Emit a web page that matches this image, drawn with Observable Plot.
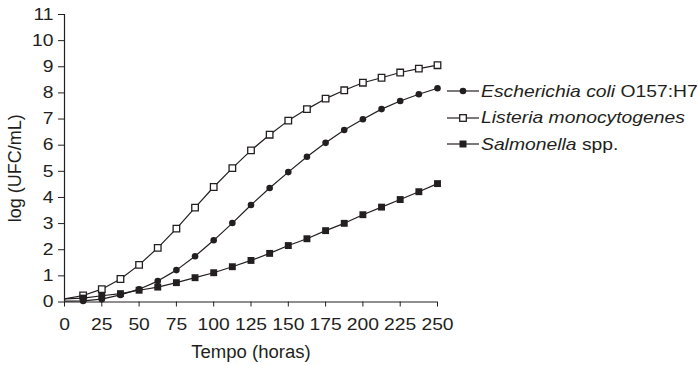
<!DOCTYPE html>
<html>
<head>
<meta charset="utf-8">
<script src="https://cdn.jsdelivr.net/npm/d3@7"></script>
<script src="https://cdn.jsdelivr.net/npm/@observablehq/plot@0.6"></script>
<style>
  html, body { margin: 0; padding: 0; background: #fff; }
  #wrap { position: relative; width: 698px; height: 365px; font-family: "Liberation Sans", Arial, Helvetica, sans-serif; color: #231f20; }
  .lrow { position: absolute; left: 447px; height: 20px; display: flex; align-items: center; white-space: nowrap; }
  .lrow svg { display: block; flex: none; }
  .ltext { font-size: 16.5px; margin-left: 2px; transform: scaleX(1.17); transform-origin: left center; }
  .ltext i { font-style: italic; }
</style>
</head>
<body>
<div id="wrap"></div>
<script>
// ---- data ----
const hours = [0, 12.5, 25, 37.5, 50, 62.5, 75, 87.5, 100, 112.5, 125, 137.5, 150, 162.5, 175, 187.5, 200, 212.5, 225, 237.5, 250];
const ecoli = [0.03, 0.04, 0.11, 0.27, 0.49, 0.80, 1.22, 1.75, 2.36, 3.02, 3.71, 4.36, 4.97, 5.56, 6.09, 6.58, 6.99, 7.38, 7.69, 7.95, 8.18];
const listeria = [0.12, 0.25, 0.49, 0.88, 1.42, 2.07, 2.81, 3.61, 4.40, 5.12, 5.80, 6.40, 6.94, 7.38, 7.78, 8.10, 8.39, 8.58, 8.78, 8.93, 9.06];
const salmonella = [0.12, 0.15, 0.24, 0.32, 0.45, 0.57, 0.74, 0.93, 1.12, 1.35, 1.59, 1.86, 2.16, 2.42, 2.73, 3.01, 3.34, 3.63, 3.92, 4.22, 4.53];
const xTicks = [0, 25, 50, 75, 100, 125, 150, 175, 200, 225, 250];
const yTicks = [0, 1, 2, 3, 4, 5, 6, 7, 8, 9, 10, 11];
const xLabel = "Tempo (horas)";
const yLabel = "log (UFC/mL)";
const legendItems = [
  { italic: "Escherichia coli", plain: " O157:H7", marker: "circle" },
  { italic: "Listeria monocytogenes", plain: "", marker: "open" },
  { italic: "Salmonella", plain: " spp.", marker: "filled" }
];

const ink = "#231f20";
const rows = vals => hours.map((h, i) => ({ hour: h, value: vals[i] }));
const markerRows = vals => rows(vals).filter(d => d.hour > 0);

const chart = Plot.plot({
  width: 698,
  height: 365,
  marginLeft: 64,
  marginRight: 261,
  marginTop: 14,
  marginBottom: 63.5,
  style: { fontFamily: '"Liberation Sans", Arial, Helvetica, sans-serif', fontSize: "16.5px", color: ink, background: "#fff" },
  x: { domain: [0, 250] },
  y: { domain: [0, 11] },
  marks: [
    Plot.axisX({ ticks: xTicks, tickSize: 5, tickPadding: 11, tickFormat: d => String(d), label: null, stroke: ink, fill: ink }),
    Plot.axisY({ ticks: yTicks, tickSize: 6, tickPadding: 5, tickFormat: d => String(d), label: null, stroke: ink, fill: ink }),
    Plot.ruleX([0], { stroke: ink, strokeWidth: 1.2 }),
    Plot.ruleY([0], { stroke: ink, strokeWidth: 1.2 }),
    Plot.line(rows(listeria), { x: "hour", y: "value", stroke: ink, strokeWidth: 1.2 }),
    Plot.line(rows(ecoli), { x: "hour", y: "value", stroke: ink, strokeWidth: 1.2 }),
    Plot.line(rows(salmonella), { x: "hour", y: "value", stroke: ink, strokeWidth: 1.2 }),
    Plot.dot(markerRows(listeria), { x: "hour", y: "value", symbol: "square", r: 3.7, fill: "#fff", stroke: ink, strokeWidth: 1.3 }),
    Plot.dot(markerRows(ecoli), { x: "hour", y: "value", symbol: "circle", r: 3.3, fill: ink }),
    Plot.dot(markerRows(salmonella), { x: "hour", y: "value", symbol: "square", r: 3.9, fill: ink }),
    Plot.text([xLabel], { text: d => d, frameAnchor: "bottom", dy: 50, lineAnchor: "middle", fontSize: 18, fill: ink }),
    Plot.text([yLabel], { text: d => d, frameAnchor: "left", dx: -49, dy: 10, rotate: -90, textAnchor: "middle", lineAnchor: "middle", fontSize: 18, fill: ink })
  ]
});

// slightly wider glyphs, as in the reference typesetting
function stretch(t, s) {
  const tr = t.getAttribute("transform");
  if (tr && tr.includes("translate")) {
    t.setAttribute("transform", tr + ` scale(${s},1)`);
  } else {
    const x = +(t.getAttribute("x") || 0);
    t.setAttribute("transform", `translate(${x},0) scale(${s},1) translate(${-x},0)`);
  }
}
chart.querySelectorAll('g[aria-label="x-axis tick label"] text, g[aria-label="y-axis tick label"] text').forEach(t => stretch(t, 1.17));
chart.querySelectorAll("text").forEach(t => { if (t.textContent === xLabel) stretch(t, 1.03); });

const wrap = document.getElementById("wrap");
wrap.appendChild(chart);

// legend
const legendCenters = [91.3, 117.7, 144];
legendItems.forEach((item, i) => {
  const row = document.createElement("div");
  row.className = "lrow";
  row.style.top = (legendCenters[i] - 10) + "px";
  let m = "";
  if (item.marker === "circle") m = `<circle cx="16" cy="10" r="3.3" fill="${ink}"/>`;
  else if (item.marker === "open") m = `<rect x="12.7" y="6.7" width="6.6" height="6.6" fill="#fff" stroke="${ink}" stroke-width="1.3"/>`;
  else m = `<rect x="12.5" y="6.5" width="7" height="7" fill="${ink}"/>`;
  row.innerHTML = `<svg width="32" height="20"><line x1="0" x2="32" y1="10" y2="10" stroke="${ink}" stroke-width="1.2"/>${m}</svg>` +
    `<span class="ltext"><i>${item.italic}</i>${item.plain}</span>`;
  wrap.appendChild(row);
});
</script>
</body>
</html>
